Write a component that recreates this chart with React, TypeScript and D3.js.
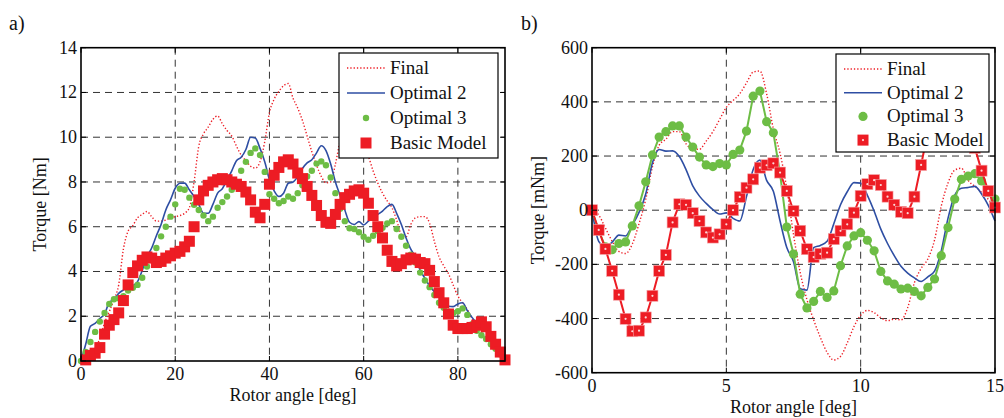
import * as d3 from 'd3'

// ---- panel a) data : torque [Nm] vs rotor angle [deg], 1 deg steps ----
const angleA = d3.range(0, 91)
const angleBasicA = d3.range(1, 91)

const finalA = [0, 0.1, 0.3, 0.6, 1.0, 1.7, 2.2, 2.75, 3.4, 5.0, 5.8, 6.05, 6.4, 6.55, 6.68, 6.45, 6.25, 6.25, 6.3, 6.4,
  6.45, 6.5, 6.6, 6.85, 8.0, 9.6, 10.15, 10.45, 10.8, 10.95, 10.6, 10.3, 10.05, 9.6, 9.2, 8.95, 8.7, 8.62, 8.9, 9.8,
  11.1, 11.7, 12.05, 12.3, 12.4, 11.75, 11.3, 10.75, 10.05, 9.35, 8.75, 8.25, 7.96, 8.0, 8.8, 9.8, 10.2, 10.3, 10.2, 10.0,
  9.6, 9.15, 8.5, 7.95, 7.5, 7.15, 6.85, 6.3, 5.65, 5.55, 6.1, 6.4, 6.45, 6.45, 6.15, 5.35, 4.65, 4.25, 3.9, 3.4,
  2.9, 2.6, 2.3, 1.9, 1.6, 1.45, 1.3, 1.0, 0.65, 0.3, 0]

const optimal2A = [0, 0.75, 1.55, 1.68, 1.9, 2.1, 2.62, 2.75, 3.02, 3.17, 3.28, 3.35, 3.55, 4.05, 4.65, 5.05, 5.6, 6.1, 6.75, 7.2,
  7.72, 7.94, 7.95, 7.65, 7.35, 7.0, 6.6, 6.6, 7.0, 7.5, 7.7, 8.09, 8.5, 8.95, 9.1, 9.45, 10.0, 9.96, 9.5, 8.9,
  8.1, 7.6, 7.35, 7.5, 7.94, 8.0, 8.24, 8.6, 8.85, 8.99, 9.3, 9.62, 9.4, 8.8, 8.0, 7.4, 6.75, 6.2, 6.1, 6.23,
  6.08, 6.25, 6.4, 6.55, 6.7, 6.9, 7.0, 6.6, 6.1, 5.5, 5.0, 4.65, 4.05, 3.7, 3.35, 3.1, 2.85, 2.6, 2.45, 2.43,
  2.55, 2.6, 2.25, 1.95, 1.7, 1.5, 1.35, 1.05, 0.7, 0.35, 0]

const optimal3A = [0, 0.4, 0.85, 1.3, 1.76, 2.15, 2.55, 2.76, 2.8, 2.9, 3.15, 3.27, 3.4, 3.72, 4.22, 4.52, 5.05, 5.57, 6.0, 6.45,
  7.0, 7.7, 7.65, 7.3, 6.98, 6.75, 6.5, 6.25, 6.45, 6.85, 7.1, 7.35, 7.65, 8.0, 8.5, 8.9, 9.3, 9.5, 9.2, 8.45,
  7.45, 7.25, 7.05, 7.15, 7.35, 7.25, 7.5, 7.85, 8.25, 8.5, 8.82, 8.92, 8.75, 8.2, 7.5, 6.8, 6.25, 5.93, 5.9, 5.75,
  5.55, 5.42, 5.6, 5.8, 5.95, 6.15, 6.25, 5.9, 5.55, 5.15, 4.75, 4.4, 3.95, 3.6, 3.3, 2.95, 2.6, 2.38, 2.2, 2.15,
  2.22, 2.35, 2.06, 1.65, 1.35, 1.15, 0.98, 0.75, 0.55, 0.3, 0]

const basicA = [0.05, 0.25, 0.35, 0.6, 1.2, 1.6, 1.85, 2.15, 2.7, 3.4, 3.95, 4.25, 4.5, 4.65, 4.6, 4.4, 4.45, 4.6, 4.7, 4.82,
  4.9, 5.1, 5.35, 6.0, 7.2, 7.6, 7.85, 8.0, 8.1, 8.15, 8.1, 8.0, 7.9, 7.8, 7.55, 7.2, 6.65, 6.4, 7.0, 7.9,
  8.3, 8.65, 8.9, 8.99, 8.8, 8.4, 8.15, 7.8, 7.4, 6.95, 6.5, 6.2, 6.15, 6.55, 7.0, 7.3, 7.45, 7.6, 7.65, 7.5,
  7.05, 6.5, 6.0, 5.5, 4.95, 4.45, 4.25, 4.35, 4.52, 4.6, 4.55, 4.4, 4.35, 4.05, 3.55, 3.05, 2.6, 2.1, 1.6, 1.45,
  1.45, 1.45, 1.5, 1.6, 1.75, 1.53, 1.1, 0.75, 0.4, 0.05]

// ---- panel b) data : torque [mNm] vs rotor angle [deg], 0.25 deg steps ----
const angleB = d3.range(0, 61).map(i => i * 0.25)

const finalB = [0, -18, -66, -115, -152, -160, -125, -50, 40, 160, 240, 262, 290, 290, 245, 226, 225, 255, 290, 335,
  380, 405, 430, 470, 510, 514, 430, 300, 210, 80, -90, -230, -330, -405, -470, -525, -553, -540, -490, -430,
  -388, -370, -378, -397, -408, -402, -405, -360, -268, -215, -180, -110, 15, 100, 148, 155, 110, 88, 66, 40, 10]

const optimal2B = [0, -115, -135, -118, -92, -95, -55, -8, 60, 175, 224, 218, 219, 198, 150, 90, 52, 25, 2, -14,
  -10, -30, -40, 50, 150, 185, 110, 70, -40, -138, -190, -290, -295, -138, -130, -115, -50, 20, 68, 102,
  100, 55, -3, -70, -123, -168, -207, -232, -250, -263, -246, -225, -150, -30, 55, 81, 84, 88, 60, 18, -40]

const optimal3B = [0, -76, -135, -146, -123, -117, -58, 16, 105, 204, 270, 290, 311, 311, 270, 233, 196, 167, 161, 172,
  167, 206, 222, 292, 421, 440, 327, 286, 135, -62, -162, -310, -361, -337, -300, -322, -298, -205, -132, -95,
  -83, -111, -150, -226, -261, -273, -291, -288, -300, -316, -285, -254, -168, -64, 41, 114, 126, 135, 108, 65, 41]

const basicB = [0, -73, -143, -224, -312, -401, -447, -445, -396, -316, -224, -165, -45, 22, 20, -11, -40, -82, -101, -89,
  -52, 0, 49, 83, 114, 157, 166, 173, 139, 71, -3, -76, -144, -173, -161, -157, -107, -76, -52, -9,
  53, 96, 111, 93, 50, 20, -6, -11, 50, 167, 290, 380, 430, 440, 420, 370, 300, 230, 146, 71, 10]

const legendLabels = ['Final', 'Optimal 2', 'Optimal 3', 'Basic Model']

const RED = '#ed1c24'
const BLUE = '#2e4ea3'
const GREEN = '#6dbd45'
const FONT = "'Liberation Serif', 'Times New Roman', Tinos, 'Noto Serif', 'DejaVu Serif', FreeSerif, serif"

type Pt = [number, number]
const zip = (xs: number[], ys: number[]): Pt[] => xs.map((x, i) => [x, ys[i]])

function Panel(props: any) {
  const { left, right, top, bottom, xDomain, yDomain, xTicks, yTicks, xGrid, yGrid,
    series, legend, yLabel, tag, xLabelY, marked } = props
  const x = d3.scaleLinear().domain(xDomain).range([left, right])
  const y = d3.scaleLinear().domain(yDomain).range([bottom, top])
  const line = d3.line<Pt>().x(d => x(d[0])).y(d => y(d[1])).curve(d3.curveMonotoneX)
  const straight = d3.line<Pt>().x(d => x(d[0])).y(d => y(d[1]))
  const tk = 5
  const txt = { fontFamily: FONT }

  return (
    <g fill="#111">
      <text x={tag.x} y={tag.y} fontSize={20} style={txt}>{tag.text}</text>
      {/* grid */}
      {xGrid.map((t: number) => (
        <line key={'gx' + t} x1={x(t)} x2={x(t)} y1={top} y2={bottom} stroke="#333" strokeWidth={1} strokeDasharray="7 5" />
      ))}
      {yGrid.map((t: number) => (
        <line key={'gy' + t} x1={left} x2={right} y1={y(t)} y2={y(t)} stroke="#333" strokeWidth={1} strokeDasharray="7 5" />
      ))}

      {/* series */}
      <path d={line(series.final) || ''} fill="none" stroke={RED} strokeWidth={1.4} strokeDasharray="1.3 2" />
      <path d={line(series.opt2) || ''} fill="none" stroke={BLUE} strokeWidth={1.6} />
      {marked ? <path d={straight(series.opt3) || ''} fill="none" stroke={GREEN} strokeWidth={2} /> : null}
      {series.opt3.map((d: Pt, i: number) => (
        <circle key={'g' + i} cx={x(d[0])} cy={y(d[1])} r={marked ? 4.6 : 3.2} fill={GREEN} />
      ))}
      {marked ? <path d={straight(series.basic) || ''} fill="none" stroke={RED} strokeWidth={2} /> : null}
      {series.basic.map((d: Pt, i: number) => {
        const s = marked ? 11 : 11
        return (
          <g key={'b' + i}>
            <rect x={x(d[0]) - s / 2} y={y(d[1]) - s / 2} width={s} height={s} fill={RED} stroke={marked ? '#f4a0a3' : 'none'} strokeWidth={0.6} />
            {marked ? <circle cx={x(d[0])} cy={y(d[1])} r={1.1} fill="#fbd9da" /> : null}
          </g>
        )
      })}

      {/* frame and ticks */}
      <rect x={left} y={top} width={right - left} height={bottom - top} fill="none" stroke="#000" strokeWidth={1.6} />
      {xTicks.map((t: number) => (
        <g key={'xt' + t}>
          <line x1={x(t)} x2={x(t)} y1={bottom} y2={bottom - tk} stroke="#000" />
          <line x1={x(t)} x2={x(t)} y1={top} y2={top + tk} stroke="#000" />
          <text x={x(t)} y={bottom + 19} fontSize={18} textAnchor="middle" style={txt}>{t}</text>
        </g>
      ))}
      {yTicks.map((t: number) => (
        <g key={'yt' + t}>
          <line x1={left} x2={left + tk} y1={y(t)} y2={y(t)} stroke="#000" />
          <line x1={right} x2={right - tk} y1={y(t)} y2={y(t)} stroke="#000" />
          <text x={left - 4} y={y(t) + 6} fontSize={18} textAnchor="end" style={txt}>{t}</text>
        </g>
      ))}
      <text x={(left + right) / 2} y={xLabelY} fontSize={18} textAnchor="middle" style={txt}>Rotor angle [deg]</text>
      <text transform={`translate(${yLabel.x},${(top + bottom) / 2}) rotate(-90)`} fontSize={18} textAnchor="middle" style={txt}>{yLabel.text}</text>

      {/* legend */}
      <g>
        <rect x={legend.x} y={legend.y} width={legend.w} height={legend.h} fill="#fff" stroke="#000" strokeWidth={1.2} />
        {legendLabels.map((lab, i) => {
          const cy = legend.y + legend.first + i * legend.step
          const lx1 = legend.x + 8, lx2 = legend.x + 46, mx = (lx1 + lx2) / 2
          return (
            <g key={lab}>
              {i === 0 ? <line x1={lx1} x2={lx2} y1={cy} y2={cy} stroke={RED} strokeWidth={1.4} strokeDasharray="1.3 2" /> : null}
              {i === 1 ? <line x1={lx1} x2={lx2} y1={cy} y2={cy} stroke={BLUE} strokeWidth={1.6} /> : null}
              {i === 2 ? <circle cx={mx} cy={cy} r={marked ? 4.6 : 3.2} fill={GREEN} /> : null}
              {i === 3 ? (
                <g>
                  <rect x={mx - 5.5} y={cy - 5.5} width={11} height={11} fill={RED} />
                  {marked ? <circle cx={mx} cy={cy} r={1.1} fill="#fbd9da" /> : null}
                </g>
              ) : null}
              <text x={lx2 + 5} y={cy + 6} fontSize={19} style={txt}>{lab}</text>
            </g>
          )
        })}
      </g>
    </g>
  )
}

export default function App() {
  return (
    <svg width={1004} height={418} style={{ position: 'absolute', left: 0, top: 0, background: '#fff', fontFamily: FONT }}>
      <Panel
        left={81} right={505} top={47.7} bottom={361}
        xDomain={[0, 90]} yDomain={[0, 14]}
        xTicks={[0, 20, 40, 60, 80]} yTicks={d3.range(0, 15, 2)}
        xGrid={[20, 40, 60, 80]} yGrid={[2, 4, 6, 8, 10, 12]}
        series={{
          final: zip(angleA, finalA),
          opt2: zip(angleA, optimal2A),
          opt3: zip(angleA, optimal3A),
          basic: zip(angleBasicA, basicA),
        }}
        legend={{ x: 339, y: 53, w: 159, h: 105, first: 15, step: 25 }}
        yLabel={{ x: 46, text: 'Torque [Nm]' }}
        tag={{ x: 9, y: 30, text: 'a)' }}
        xLabelY={401}
        marked={false}
      />
      <Panel
        left={592} right={995} top={47.7} bottom={372.7}
        xDomain={[0, 15]} yDomain={[-600, 600]}
        xTicks={[0, 5, 10, 15]} yTicks={d3.range(-600, 601, 200)}
        xGrid={[5, 10]} yGrid={[-400, -200, 0, 200, 400]}
        series={{
          final: zip(angleB, finalB),
          opt2: zip(angleB, optimal2B),
          opt3: zip(angleB, optimal3B),
          basic: zip(angleB, basicB),
        }}
        legend={{ x: 836, y: 54, w: 153, h: 98, first: 15, step: 23.7 }}
        yLabel={{ x: 544, text: 'Torque [mNm]' }}
        tag={{ x: 521, y: 30, text: 'b)' }}
        xLabelY={413}
        marked={true}
      />
    </svg>
  )
}
